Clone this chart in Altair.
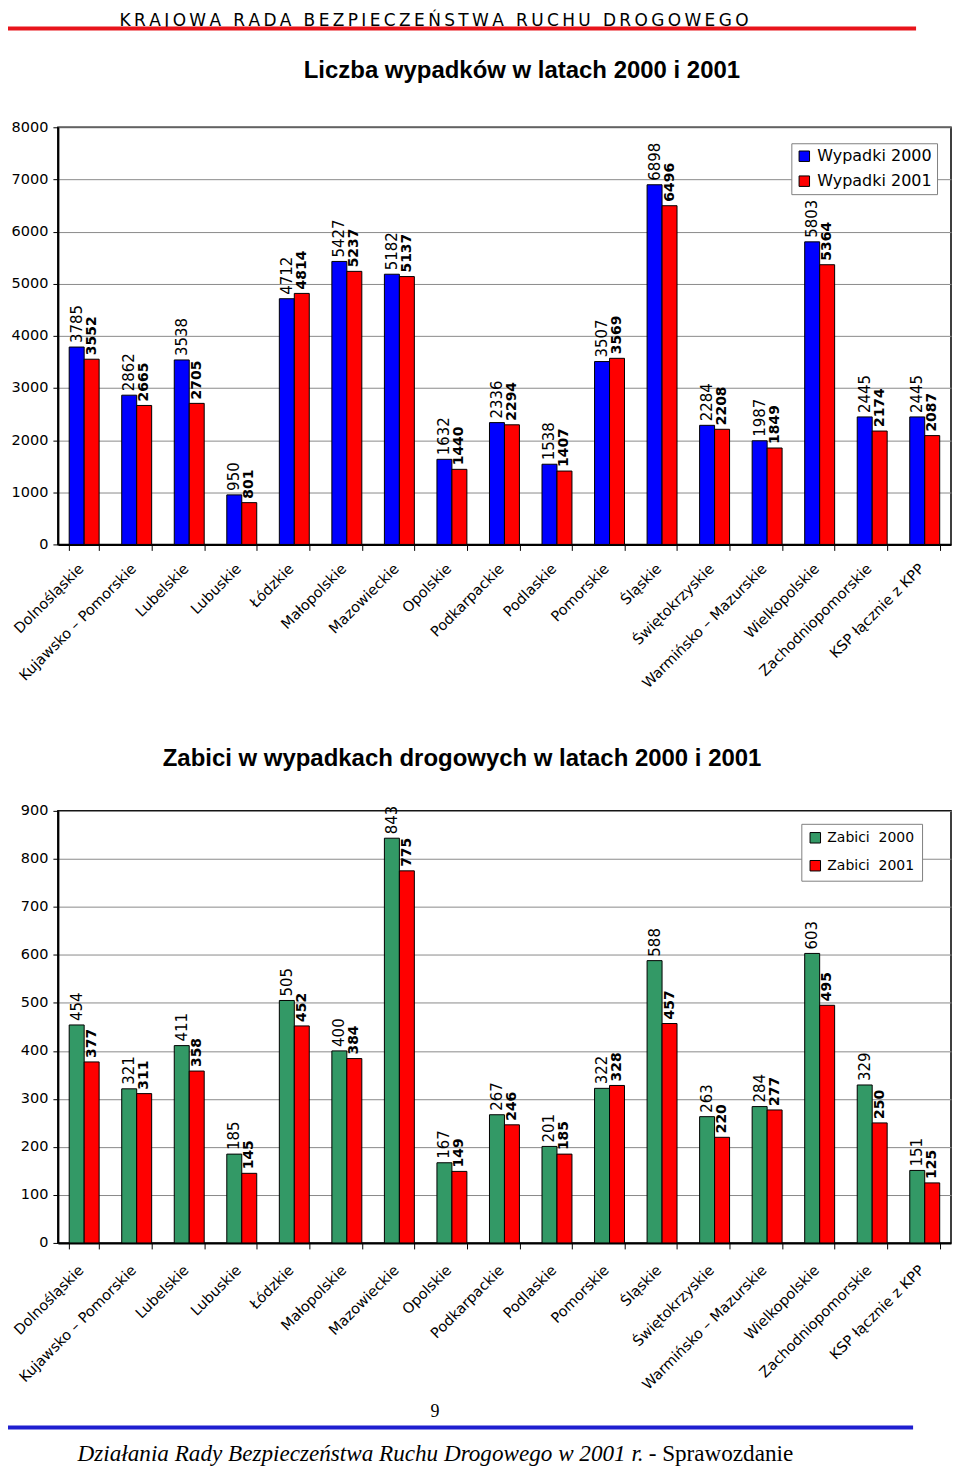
import altair as alt
import pandas as pd

# ---------------- data ----------------
categories = [
    "Dolnośląskie", "Kujawsko – Pomorskie", "Lubelskie", "Lubuskie", "Łódzkie",
    "Małopolskie", "Mazowieckie", "Opolskie", "Podkarpackie", "Podlaskie",
    "Pomorskie", "Śląskie", "Świętokrzyskie", "Warmińsko – Mazurskie",
    "Wielkopolskie", "Zachodniopomorskie", "KSP łącznie z KPP",
]
wypadki_2000 = [3785, 2862, 3538, 950, 4712, 5427, 5182, 1632, 2336, 1538, 3507, 6898, 2284, 1987, 5803, 2445, 2445]
wypadki_2001 = [3552, 2665, 2705, 801, 4814, 5237, 5137, 1440, 2294, 1407, 3569, 6496, 2208, 1849, 5364, 2174, 2087]
zabici_2000 = [454, 321, 411, 185, 505, 400, 843, 167, 267, 201, 322, 588, 263, 284, 603, 329, 151]
zabici_2001 = [377, 311, 358, 145, 452, 384, 775, 149, 246, 185, 328, 457, 220, 277, 495, 250, 125]

series_wypadki = ["Wypadki 2000", "Wypadki 2001"]
series_zabici = ["Zabici\u00a0 2000", "Zabici\u00a0 2001"]
ticks_wypadki = [0, 1000, 2000, 3000, 4000, 5000, 6000, 7000, 8000]
ticks_zabici = [0, 100, 200, 300, 400, 500, 600, 700, 800, 900]

header_text = "KRAJOWA RADA BEZPIECZEŃSTWA RUCHU DROGOWEGO"
title_1 = "Liczba wypadków w latach 2000 i 2001"
title_2 = "Zabici w wypadkach drogowych w latach 2000 i 2001"
page_number = "9"
footer_italic = "Działania Rady Bezpieczeństwa Ruchu Drogowego w 2001 r."
footer_plain = "- Sprawozdanie"

FONT = "DejaVu Sans"
W = 895


def spaced(text):
    # letter-spaced look of the running header
    gap = "\u2009\u00a0\u2009"
    return gap.join("\u2009".join(word) for word in text.split(" "))


def txt(s, x, y, **kw):
    return alt.Chart(pd.DataFrame({"t": [s]})).mark_text(**kw).encode(
        x=alt.value(x), y=alt.value(y), text="t:N")


def rule(x1, x2, y, color, width):
    return alt.Chart(pd.DataFrame({"r": [0]})).mark_rule(
        color=color, strokeWidth=width).encode(
        x=alt.value(x1), x2=alt.value(x2), y=alt.value(y))


def build(va, vb, names, colors, yticks, leg_x, leg_y, leg_fs, leg_pad,
          leg_row, lab_pad):
    n = len(categories)
    df = pd.DataFrame({
        "kategoria": categories * 2,
        "seria": [names[0]] * n + [names[1]] * n,
        "wartosc": va + vb,
    })
    x = alt.X("kategoria:N", sort=categories, title=None,
              scale=alt.Scale(paddingInner=0.43, paddingOuter=0.215),
              axis=alt.Axis(labelAngle=-45, labelAlign="right",
                            labelBaseline="middle", labelFontSize=14.5,
                            labelFont=FONT, labelColor="black",
                            labelPadding=lab_pad, labelOffset=-3,
                            tickBand="extent", tickSize=6, tickColor="black",
                            domainColor="black", domainWidth=2,
                            labelLimit=0, labelOverlap=False))
    xo = alt.XOffset("seria:N", sort=names,
                     scale=alt.Scale(paddingInner=0, paddingOuter=0))
    y = alt.Y("wartosc:Q", title=None,
              scale=alt.Scale(domain=[yticks[0], yticks[-1]], nice=False),
              axis=alt.Axis(values=yticks, format="d", labelFontSize=14.5,
                            labelFont=FONT, labelColor="black", tickSize=5,
                            tickColor="black", domainColor="black",
                            domainWidth=2, gridColor="#8a8a8a", gridWidth=1,
                            labelPadding=5))
    base = alt.Chart(df)
    bars = base.mark_bar(stroke="black", strokeWidth=1).encode(
        x=x, xOffset=xo, y=y,
        color=alt.Color("seria:N", sort=names,
                        scale=alt.Scale(domain=names, range=colors),
                        legend=alt.Legend(
                            orient="none", legendX=leg_x, legendY=leg_y,
                            title=None, labelFontSize=leg_fs, labelFont=FONT,
                            labelColor="black", symbolType="square",
                            symbolSize=110, symbolStrokeColor="black",
                            symbolStrokeWidth=1, strokeColor="#808080",
                            fillColor="white", padding=leg_pad,
                            rowPadding=leg_row, labelOffset=5)))
    lab_a = base.transform_filter(alt.datum.seria == names[0]).mark_text(
        angle=270, align="left", baseline="middle", dx=4, fontSize=15,
        font=FONT, color="black").encode(x=x, xOffset=xo, y=y,
                                         text="wartosc:Q")
    lab_b = base.transform_filter(alt.datum.seria == names[1]).mark_text(
        angle=270, align="left", baseline="middle", dx=4, fontSize=14,
        fontWeight="bold", font=FONT, color="black").encode(
        x=x, xOffset=xo, y=y, text="wartosc:Q")
    return bars, lab_a, lab_b


b1, a1, c1 = build(wypadki_2000, wypadki_2001, series_wypadki,
                   ["#0000FF", "#FF0000"], ticks_wypadki,
                   735, 16, 16, 5, 9, 16)
b2, a2, c2 = build(zabici_2000, zabici_2001, series_zabici,
                   ["#339966", "#FF0000"], ticks_zabici,
                   745, 13, 14, 7, 12, 19)

chart1 = alt.layer(
    b1, a1, c1,
    txt(spaced(header_text), 377, -107, fontSize=17, font=FONT,
        color="black", align="center", baseline="middle"),
    rule(-50, 860, -99, "#E8141B", 4),
    txt(title_1, 465, -56, fontSize=24, font="Liberation Sans",
        fontWeight="bold", color="black", align="center", baseline="middle"),
).properties(width=W, height=418)

chart2 = alt.layer(
    b2, a2, c2,
    txt(title_2, 405, -52, fontSize=24, font="Liberation Sans",
        fontWeight="bold", color="black", align="center", baseline="middle"),
    txt(page_number, 378, 602, fontSize=18, font="Liberation Serif",
        color="black", align="center", baseline="middle"),
    rule(-50, 857, 618, "#1F1FD0", 4),
    txt(footer_italic, 587, 645, fontSize=23.2, font="Liberation Serif",
        fontStyle="italic", color="black", align="right", baseline="middle"),
    txt(footer_plain, 592, 645, fontSize=23.2, font="Liberation Serif",
        color="black", align="left", baseline="middle"),
).properties(width=W, height=433)

chart = alt.vconcat(chart1, chart2, spacing=55).resolve_scale(
    color="independent", x="independent", xOffset="independent",
    y="independent"
).properties(
    padding={"left": -3, "top": 1, "right": 0, "bottom": 0}
).configure_view(stroke="black", strokeWidth=1.5)

chart.save("out.html", embed_options={"renderer": "svg", "actions": False})
